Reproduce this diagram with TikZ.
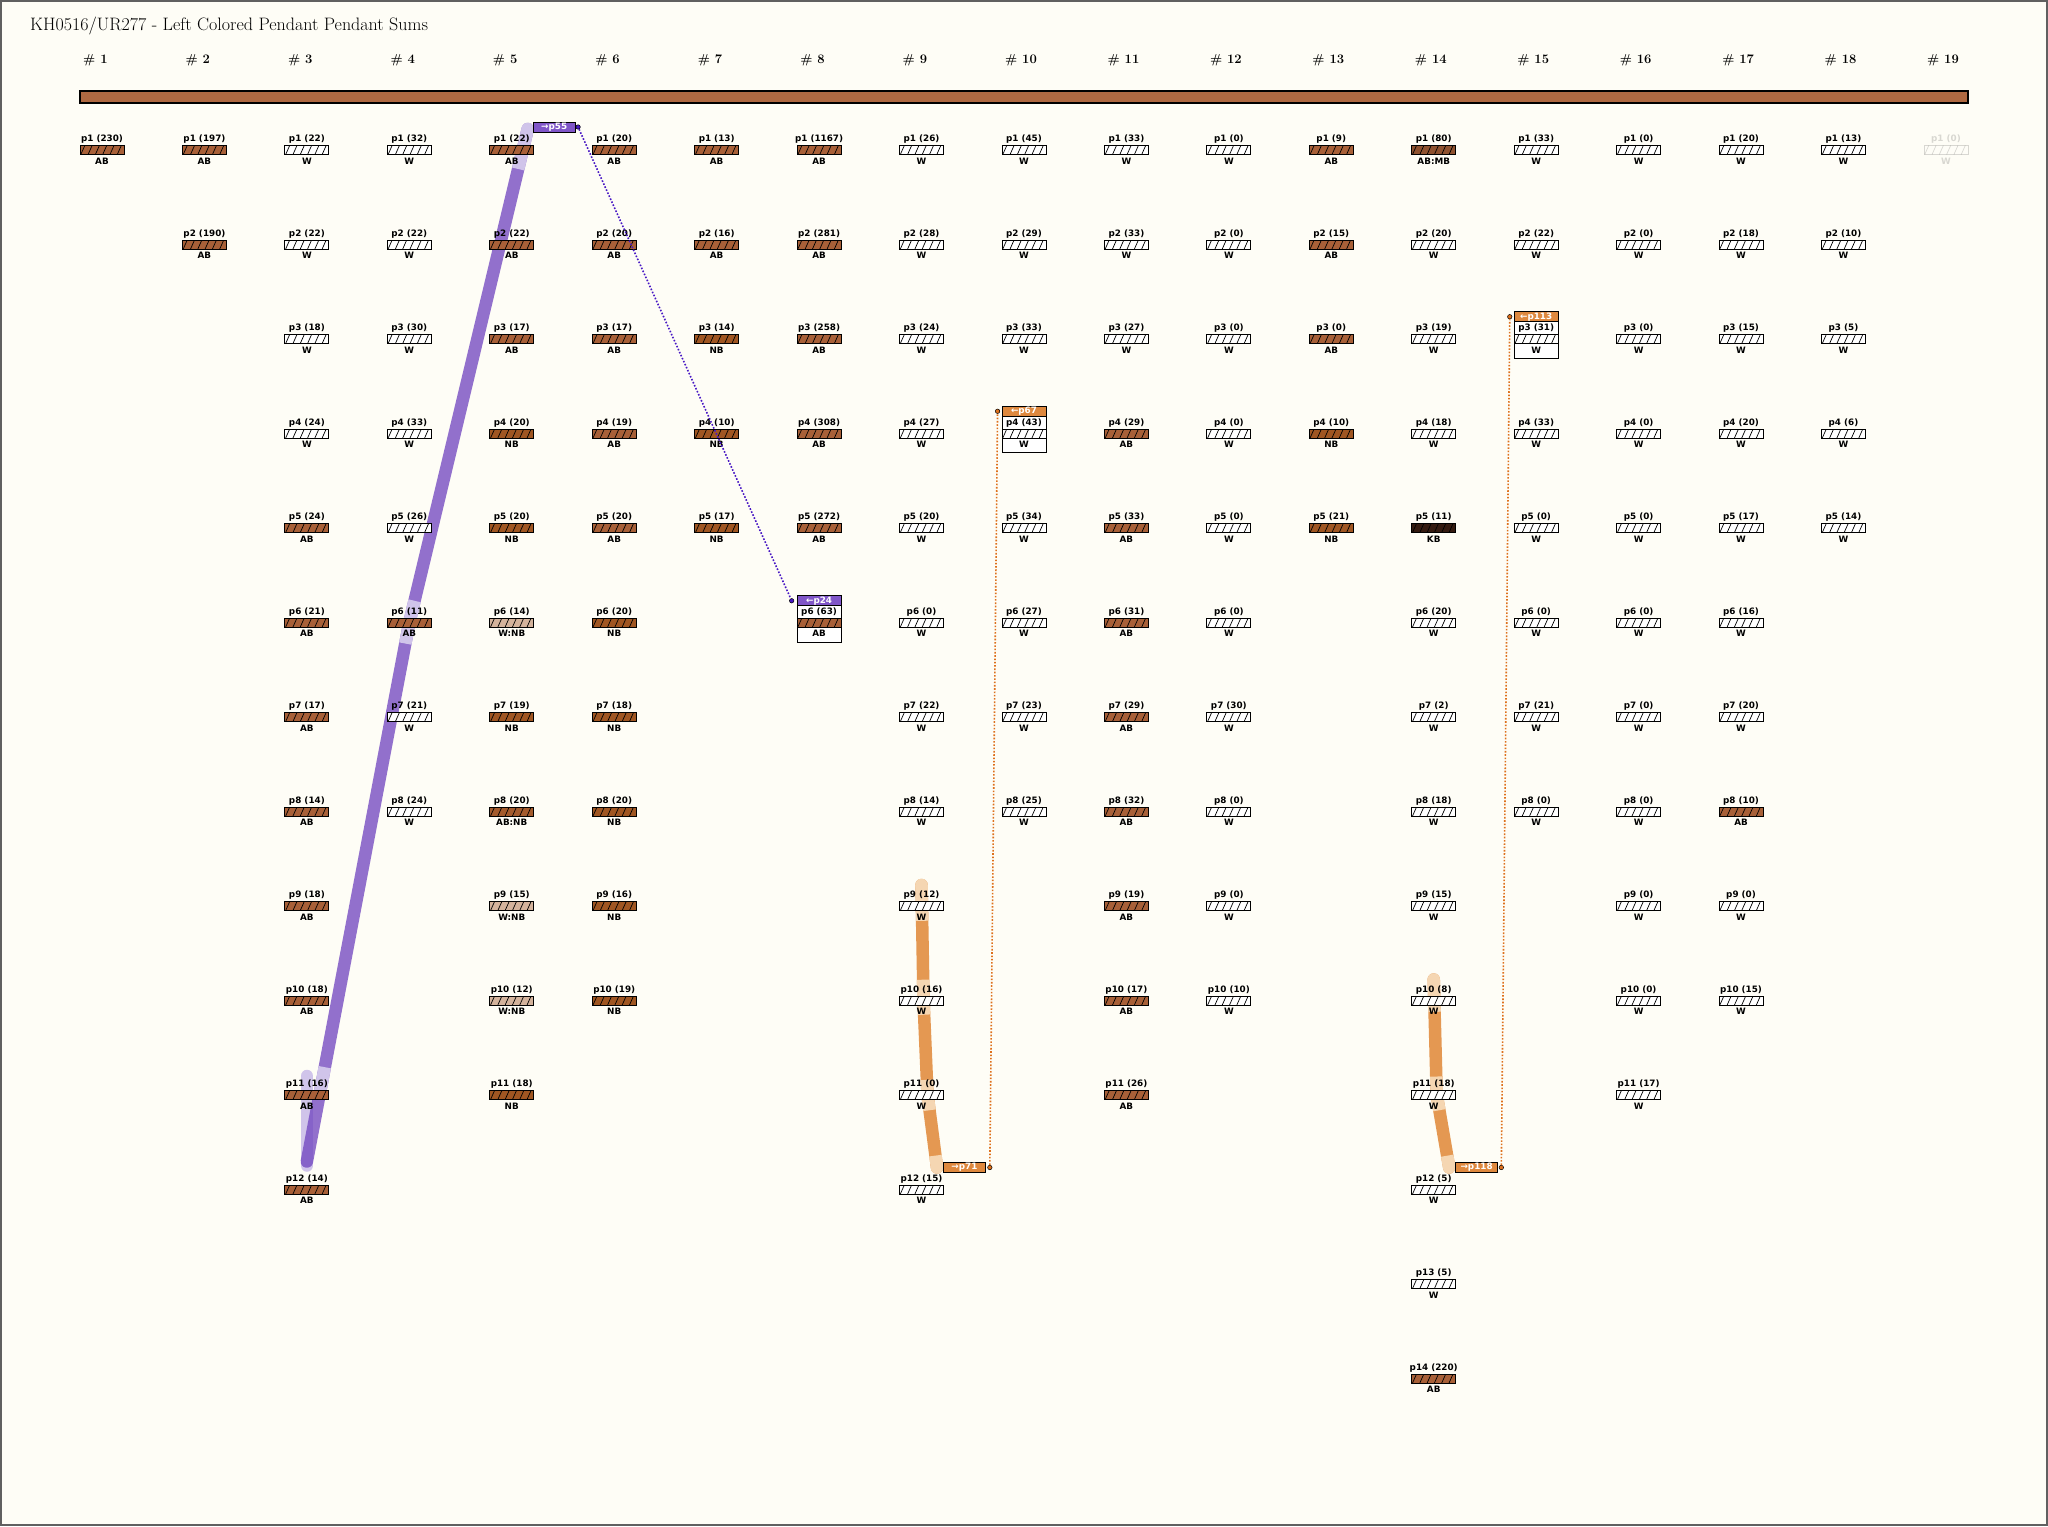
\documentclass[tikz,border=0pt]{standalone}
\usepackage{fontspec}
\newfontfamily\cellfont{DejaVu Sans}
\usetikzlibrary{calc}
\usetikzlibrary{positioning}
\definecolor{paper}{RGB}{254,253,246}
\definecolor{frame}{RGB}{96,96,96}
\definecolor{cordBrown}{RGB}{175,105,66}
\definecolor{colAB}{RGB}{168,96,56}
\definecolor{colNB}{RGB}{160,86,34}
\definecolor{colKB}{RGB}{52,26,16}
\definecolor{colW}{RGB}{255,255,255}
\colorlet{colWNB}{colNB!45!white}
\colorlet{colABNB}{colAB!50!colNB}
\colorlet{colABMB}{colAB!85!black}
\definecolor{linkPurple}{RGB}{128,86,200}
\definecolor{bandPurpleDk}{RGB}{110,66,190}
\definecolor{bandPurpleLt}{RGB}{208,196,234}
\definecolor{dotPurple}{RGB}{72,24,196}
\definecolor{linkOrange}{RGB}{222,136,62}
\definecolor{bandOrange}{RGB}{228,152,82}
\definecolor{bandOrangeLt}{RGB}{245,214,178}
\definecolor{dotOrange}{RGB}{222,112,28}

\def\ptypeWNB{W:NB}
\def\ptypeABNB{AB:NB}
\def\ptypeABMB{AB:MB}
\newcommand\pendtype[1]{\ifcsname ptype#1\endcsname\csname ptype#1\endcsname\else#1\fi}

\newcommand\pendant[4]{% column, row, value, colour kind
  \node[pbar,fill=col#4] (p#1-#2) at (c#1-#2) {};
  \node[plabel,above=1.3pt of p#1-#2] (l#1-#2) {p#2 (#3)};
  \node[ptype,below=2.6pt of p#1-#2] (t#1-#2) {\pendtype{#4}};
}

\begin{document}
\begin{tikzpicture}[x=1pt,y=-1pt,
  cellfont/.style={font=\cellfont\bfseries\fontsize{8.8}{10}\selectfont},
  pbar/.style={draw,line width=0.8pt,minimum width=44pt,minimum height=9pt,inner sep=0pt,
    path picture={\foreach \k in {0,...,5}{\draw[line width=0.7pt]
      ([xshift=0.8pt+7.3pt*\k]path picture bounding box.south west) -- ++(4,-9);}}},
  plabel/.style={cellfont,inner sep=0pt},
  ptype/.style={cellfont,inner sep=0pt},
  colnum/.style={anchor=west,inner sep=0pt,font=\bfseries\fontsize{13}{15}\selectfont},
  cordbar/.style={draw,line width=1.2pt,fill=cordBrown,minimum width=1888pt,minimum height=12pt,inner sep=0pt},
  tagbox/.style={draw,line width=0.8pt,minimum width=42pt,minimum height=10pt,inner sep=0pt,text=white,cellfont},
  linkbox/.style={draw,line width=0.8pt,fill=white,minimum width=44pt,minimum height=46.5pt,inner sep=0pt},
  dotmark/.style={circle,draw=black,line width=0.5pt,inner sep=0pt,minimum size=4.5pt},
  linkdots/.style={line width=1.6pt,dash pattern=on 1.6pt off 1.7pt},
  band/.style={line width=12.5pt,line cap=round,line join=round},
  bandlight/.style={line width=12.5pt,line cap=butt,line join=round}]
\useasboundingbox (0,0) rectangle (2048,1526);
\fill[paper] (0,0) rectangle (2048,1526);
\draw[line width=2pt,frame] (1,1) rectangle (2047,1525);
%------------------------------------------------------------------------
% Grid of pendant positions
%------------------------------------------------------------------------
\foreach \col in {1,...,19}
  \foreach \row in {1,...,14}
    \coordinate (c\col-\row) at ({102+(\col-1)*102.44},{150+(\row-1)*94.5});
%------------------------------------------------------------------------
% Title, main cord and cord numbers
%------------------------------------------------------------------------
\node[anchor=base west,inner sep=0pt,font=\fontsize{18}{21}\selectfont] (title) at (30,30)
  {KH0516/UR277 - Left Colored Pendant Pendant Sums};
\node[cordbar] (cord) at (1024,97) {};
\foreach \col in {1,...,19}
  \node[colnum] (h\col) at ($(c\col-1)+(-19,-90)$) {\# \col};
%------------------------------------------------------------------------
% Sum bands (under the pendants)
%------------------------------------------------------------------------
% p55
\coordinate (pA) at ($(c5-1)+(16,-21)$);
\coordinate (pB) at (c4-6);
\coordinate (pC) at ($(c3-12)+(0,-28)$);
\draw[band,bandPurpleLt] ($(c3-11)+(0,-19)$) -- ($(c3-12)+(0,-24)$);
\draw[band,bandPurpleDk,opacity=0.75] (pA) -- (pB) -- (pC);
\draw[bandlight,bandPurpleLt] (pA) -- ($(pA)!0.081!(pB)$);
\fill[bandPurpleLt] (pA) circle (6.25);
\draw[bandlight,bandPurpleLt] ($(pB)!0.044!(pA)$) -- (pB) -- ($(pB)!0.039!(pC)$);
\draw[bandlight,bandPurpleLt] ($(pB)!0.825!(pC)$) -- ($(pB)!0.88!(pC)$);
% p71
\coordinate (oA) at ($(c9-9)+(0,-21)$);
\coordinate (oB) at ($(c9-10)+(2,0)$);
\coordinate (oC) at ($(c9-11)+(6,0)$);
\coordinate (o71) at ($(c9-12)+(21.5,-22)$);
\coordinate (oD) at ($(o71)+(-6,0)$);
\draw[band,bandOrange] (oA) -- (oB) -- (oC) -- (oD);
\draw[bandlight,bandOrangeLt] (oA) -- ($(oA)!0.31!(oB)$);
\fill[bandOrangeLt] (oA) circle (6.25);
\draw[bandlight,bandOrangeLt] ($(oB)!0.18!(oA)$) -- (oB) -- ($(oB)!0.15!(oC)$);
\draw[bandlight,bandOrangeLt] ($(oC)!0.16!(oB)$) -- (oC) -- ($(oC)!0.21!(oD)$);
\draw[bandlight,bandOrangeLt] ($(oD)!12pt!(oC)$) -- (oD);
\fill[bandOrangeLt] (oD) circle (6.25);
% p118
\coordinate (qA) at ($(c14-10)+(0,-21)$);
\coordinate (qB) at ($(c14-11)+(3,0)$);
\coordinate (o118) at ($(c14-12)+(21.5,-22)$);
\coordinate (qD) at ($(o118)+(-6,0)$);
\draw[band,bandOrange] (qA) -- (qB) -- (qD);
\draw[bandlight,bandOrangeLt] (qA) -- ($(qA)!0.28!(qB)$);
\fill[bandOrangeLt] (qA) circle (6.25);
\draw[bandlight,bandOrangeLt] ($(qB)!0.16!(qA)$) -- (qB) -- ($(qB)!0.21!(qD)$);
\draw[bandlight,bandOrangeLt] ($(qD)!12pt!(qB)$) -- (qD);
\fill[bandOrangeLt] (qD) circle (6.25);
%------------------------------------------------------------------------
% Boxes round the summed pendants
%------------------------------------------------------------------------
\node[linkbox] (box24) at ($(c8-6)+(0,-3.5)$) {};
\node[linkbox] (box67) at ($(c10-4)+(0,-4)$) {};
\node[linkbox] (box113) at ($(c15-3)+(0,-4)$) {};
%------------------------------------------------------------------------
% The pendants: value/colour per row
%------------------------------------------------------------------------
\foreach \col/\cells in {
  1/{230/AB},
  2/{197/AB,190/AB},
  3/{22/W,22/W,18/W,24/W,24/AB,21/AB,17/AB,14/AB,18/AB,18/AB,16/AB,14/AB},
  4/{32/W,22/W,30/W,33/W,26/W,11/AB,21/W,24/W},
  5/{22/AB,22/AB,17/AB,20/NB,20/NB,14/WNB,19/NB,20/ABNB,15/WNB,12/WNB,18/NB},
  6/{20/AB,20/AB,17/AB,19/AB,20/AB,20/NB,18/NB,20/NB,16/NB,19/NB},
  7/{13/AB,16/AB,14/NB,10/NB,17/NB},
  8/{1167/AB,281/AB,258/AB,308/AB,272/AB,63/AB},
  9/{26/W,28/W,24/W,27/W,20/W,0/W,22/W,14/W,12/W,16/W,0/W,15/W},
  10/{45/W,29/W,33/W,43/W,34/W,27/W,23/W,25/W},
  11/{33/W,33/W,27/W,29/AB,33/AB,31/AB,29/AB,32/AB,19/AB,17/AB,26/AB},
  12/{0/W,0/W,0/W,0/W,0/W,0/W,30/W,0/W,0/W,10/W},
  13/{9/AB,15/AB,0/AB,10/NB,21/NB},
  14/{80/ABMB,20/W,19/W,18/W,11/KB,20/W,2/W,18/W,15/W,8/W,18/W,5/W,5/W,220/AB},
  15/{33/W,22/W,31/W,33/W,0/W,0/W,21/W,0/W},
  16/{0/W,0/W,0/W,0/W,0/W,0/W,0/W,0/W,0/W,0/W,17/W},
  17/{20/W,18/W,15/W,20/W,17/W,16/W,20/W,10/AB,0/W,15/W},
  18/{13/W,10/W,5/W,6/W,14/W}}
  \foreach [count=\row] \val/\kind in \cells
    {\pendant{\col}{\row}{\val}{\kind}}
\begin{scope}[opacity=0.15]
  \pendant{19}{1}{0}{W}
\end{scope}
%------------------------------------------------------------------------
% Sum tags and their links
%------------------------------------------------------------------------
\node[tagbox,fill=linkPurple,minimum width=44pt,anchor=north] (hdr24) at (box24.north) {←p24};
\node[tagbox,fill=linkOrange,minimum width=44pt,anchor=north] (hdr67) at (box67.north) {←p67};
\node[tagbox,fill=linkOrange,minimum width=44pt,anchor=north] (hdr113) at (box113.north) {←p113};
\node[tagbox,fill=linkPurple,anchor=west] (tag55) at ($(c5-1)+(21,-23)$) {→p55};
\node[tagbox,fill=linkOrange,anchor=west] (tag71) at (o71) {→p71};
\node[tagbox,fill=linkOrange,anchor=west] (tag118) at (o118) {→p118};
\node[dotmark,fill=dotPurple,right=0pt of tag55] (d55) {};
\node[dotmark,fill=dotPurple,left=2.5pt of hdr24] (d24) {};
\node[dotmark,fill=dotOrange,right=1.5pt of tag71] (d71) {};
\node[dotmark,fill=dotOrange,left=1.5pt of hdr67] (d67) {};
\node[dotmark,fill=dotOrange,right=0.8pt of tag118] (d118) {};
\node[dotmark,fill=dotOrange,left=1.5pt of hdr113] (d113) {};
\draw[linkdots,dotPurple] (d55) -- (d24);
\draw[linkdots,dotOrange] (d71) -- (d67);
\draw[linkdots,dotOrange] (d118) -- (d113);
\end{tikzpicture}
\end{document}
